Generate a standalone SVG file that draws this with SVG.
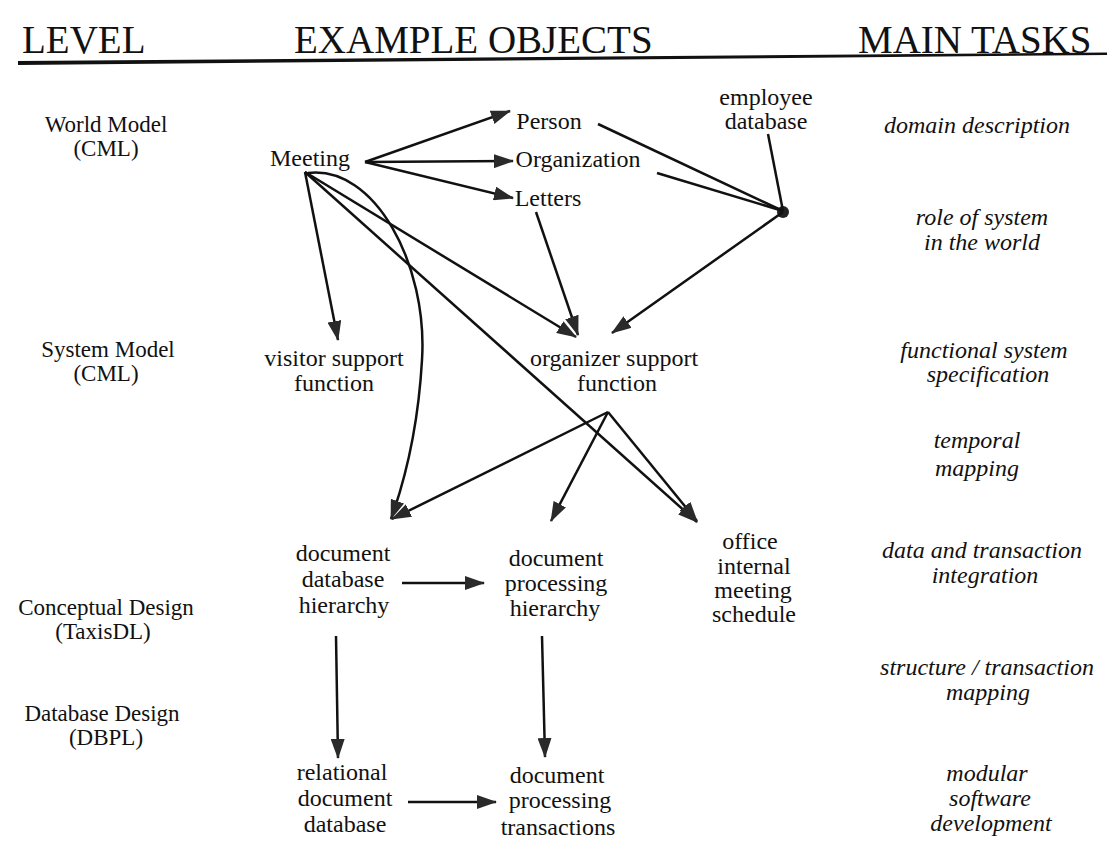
<svg xmlns="http://www.w3.org/2000/svg" width="1107" height="844" viewBox="0 0 1107 844">
<style>
.t{font-family:"Liberation Serif","Times New Roman",serif;font-size:24px;fill:#111;text-anchor:middle}
.l{font-family:"Liberation Serif","Times New Roman",serif;font-size:23px;fill:#111;text-anchor:middle}
.h{font-family:"Liberation Serif","Times New Roman",serif;font-size:39px;fill:#111}
.i{font-family:"Liberation Serif","Times New Roman",serif;font-size:24px;font-style:italic;fill:#111;text-anchor:middle}
.e{fill:none;stroke:#111;stroke-width:2.5}
.a{marker-end:url(#ah)}
</style>
<defs>
<marker id="ah" viewBox="0 0 20 14" refX="19" refY="7" markerWidth="20" markerHeight="14" markerUnits="userSpaceOnUse" orient="auto">
<path d="M0,0 L20,7 L0,14 z" fill="#2a2a2a"/>
</marker>
</defs>
<rect width="1107" height="844" fill="#fff"/>
<g id="header">
<text class="h" x="22" y="53">LEVEL</text>
<text class="h" x="294" y="53">EXAMPLE OBJECTS</text>
<text class="h" x="858" y="53">MAIN TASKS</text>
<polygon points="18,61 1107,52.5 1107,55 18,65" fill="#111"/>
</g>
<g id="levels">
<text class="l" x="106" y="132">World Model</text>
<text class="l" x="106" y="156">(CML)</text>
<text class="l" x="108" y="357">System Model</text>
<text class="l" x="106" y="381">(CML)</text>
<text class="l" x="106" y="615">Conceptual Design</text>
<text class="l" x="103" y="639">(TaxisDL)</text>
<text class="l" x="102" y="721">Database Design</text>
<text class="l" x="106" y="745">(DBPL)</text>
</g>
<g id="tasks">
<text class="i" x="977" y="133">domain description</text>
<text class="i" x="982" y="225">role of system</text>
<text class="i" x="982" y="250">in the world</text>
<text class="i" x="984" y="358">functional system</text>
<text class="i" x="988" y="382">specification</text>
<text class="i" x="977" y="448">temporal</text>
<text class="i" x="977" y="476">mapping</text>
<text class="i" x="982" y="558">data and transaction</text>
<text class="i" x="985" y="583">integration</text>
<text class="i" x="987" y="675">structure / transaction</text>
<text class="i" x="988" y="700">mapping</text>
<text class="i" x="987" y="781">modular</text>
<text class="i" x="990" y="806">software</text>
<text class="i" x="991" y="831">development</text>
</g>
<g id="meeting"><text class="t" x="310" y="166">Meeting</text></g>
<g id="person"><text class="t" x="549" y="129">Person</text></g>
<g id="organization"><text class="t" x="578" y="167">Organization</text></g>
<g id="letters"><text class="t" x="548" y="206">Letters</text></g>
<g id="employee-database">
<text class="t" x="766" y="105">employee</text>
<text class="t" x="766" y="129">database</text>
<circle cx="783" cy="212" r="6" fill="#222"/>
</g>
<g id="visitor-support">
<text class="t" x="334" y="366">visitor support</text>
<text class="t" x="334" y="391">function</text>
</g>
<g id="organizer-support">
<text class="t" x="614" y="366">organizer support</text>
<text class="t" x="617" y="391">function</text>
</g>
<g id="doc-db-hierarchy">
<text class="t" x="343" y="561">document</text>
<text class="t" x="343" y="587">database</text>
<text class="t" x="344" y="613">hierarchy</text>
</g>
<g id="doc-proc-hierarchy">
<text class="t" x="556" y="566">document</text>
<text class="t" x="556" y="591">processing</text>
<text class="t" x="555" y="616">hierarchy</text>
</g>
<g id="office-schedule">
<text class="t" x="750" y="549">office</text>
<text class="t" x="754" y="574">internal</text>
<text class="t" x="753" y="598">meeting</text>
<text class="t" x="754" y="622">schedule</text>
</g>
<g id="relational-db">
<text class="t" x="342" y="780">relational</text>
<text class="t" x="345" y="806">document</text>
<text class="t" x="345" y="832">database</text>
</g>
<g id="doc-proc-transactions">
<text class="t" x="557" y="783">document</text>
<text class="t" x="560" y="808">processing</text>
<text class="t" x="558" y="835">transactions</text>
</g>
<g id="connectors">
<path class="e a" d="M365,162 L510,111"/>
<path class="e a" d="M365,162 L513,161"/>
<path class="e a" d="M365,162 L513,198"/>
<path class="e" d="M598,124 L783,211"/>
<path class="e" d="M657,173 L783,211"/>
<path class="e" d="M768,134 L783,211"/>
<path class="e a" d="M783,212 L612,333"/>
<path class="e a" d="M536,212 L578,335"/>
<path class="e a" d="M305,172 L576,337"/>
<path class="e a" d="M305,172 L338,340"/>
<path class="e a" d="M305,172 L697,522"/>
<path class="e a" d="M308,173 C375,165 428,265 422,360 C418,430 405,480 391,519"/>
<path class="e a" d="M608,412 L392,519"/>
<path class="e a" d="M608,412 L551,521"/>
<path class="e a" d="M608,412 L697,521"/>
<path class="e a" d="M402,583 L484,583"/>
<path class="e a" d="M336,636 L338,758"/>
<path class="e a" d="M542,636 L545,757"/>
<path class="e a" d="M408,802 L496,802"/>
</g>
</svg>
